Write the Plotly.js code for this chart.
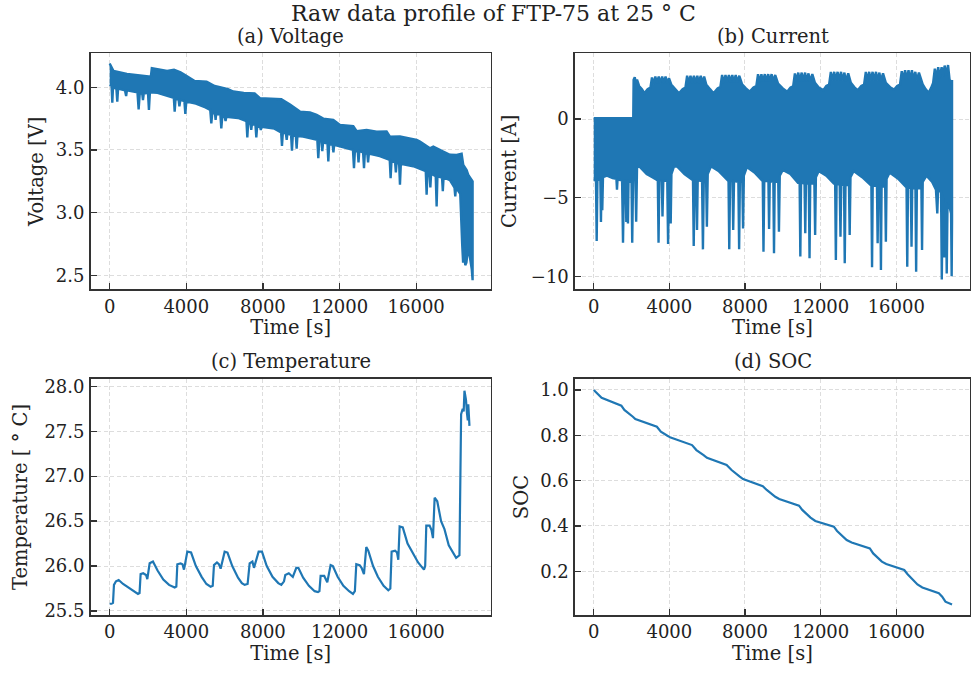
<!DOCTYPE html>
<html>
<head>
<meta charset="utf-8">
<script src="https://cdn.plot.ly/plotly-3.0.1.min.js"></script>
<style>html,body{margin:0;padding:0;background:#fff;}#chart{width:971px;height:673px;}</style>
</head>
<body>
<div id="chart"></div>
<script>
// ---------------- DATA ----------------
const timeTicks = [0, 4000, 8000, 12000, 16000];

// (a) Voltage: upper envelope of the dense trace [time s, V]
const voltUpper = [[0,4.19],[60,4.17],[200,4.13],[900,4.107],[1500,4.095],[2050,4.085],[2150,4.085],[2200,4.152],[2600,4.14],[3000,4.13],[3360,4.14],[3700,4.12],[4019,4.09],[4435,4.05],[5060,4.045],[5480,4.01],[6175,3.985],[6452,3.966],[7000,3.955],[7568,3.95],[7844,3.913],[8264,3.91],[8960,3.905],[9412,3.862],[9932,3.806],[10456,3.80],[10802,3.78],[11152,3.75],[11672,3.74],[12023,3.70],[12716,3.69],[12893,3.65],[13412,3.66],[13937,3.646],[14456,3.647],[14631,3.606],[15152,3.607],[16023,3.58],[16196,3.567],[16719,3.513],[16892,3.527],[17415,3.486],[17762,3.461],[18111,3.46],[18371,3.469],[18458,3.38],[18632,3.34],[18719,3.30],[18945,3.25]];
// (a) Voltage: lower envelope including the downward spikes [time s, V]
const voltLower = [[0,4.02],[100,4.01],[138,3.877],[175,4.0],[350,3.99],[398,3.885],[440,3.99],[800,3.975],[860,3.93],[900,3.975],[1450,3.96],[1512,3.824],[1570,3.95],[1700,3.95],[1738,3.898],[1780,3.95],[2000,3.955],[2050,3.82],[2100,3.96],[2500,3.955],[3000,3.93],[3350,3.915],[3393,3.806],[3440,3.91],[3600,3.90],[3640,3.847],[3690,3.90],[3900,3.89],[3950,3.788],[4000,3.885],[4500,3.87],[5000,3.84],[5250,3.82],[5306,3.712],[5360,3.80],[5500,3.79],[5530,3.74],[5560,3.79],[5780,3.78],[5828,3.672],[5880,3.77],[6000,3.765],[6050,3.73],[6090,3.765],[6700,3.755],[7140,3.73],[7185,3.60],[7230,3.72],[7350,3.71],[7390,3.66],[7430,3.71],[7610,3.70],[7655,3.60],[7700,3.69],[7850,3.685],[7890,3.66],[7930,3.685],[8600,3.67],[8950,3.64],[8995,3.532],[9040,3.64],[9200,3.63],[9240,3.58],[9280,3.63],[9470,3.62],[9516,3.495],[9560,3.615],[9720,3.61],[9760,3.51],[9800,3.61],[10100,3.607],[10840,3.58],[10890,3.434],[10940,3.57],[11060,3.57],[11100,3.49],[11140,3.56],[11370,3.55],[11414,3.408],[11460,3.55],[11640,3.54],[11680,3.48],[11720,3.54],[12000,3.527],[12700,3.50],[12753,3.355],[12800,3.49],[12950,3.49],[12990,3.40],[13030,3.49],[13230,3.48],[13276,3.355],[13320,3.475],[13450,3.47],[13490,3.40],[13530,3.47],[14100,3.45],[14620,3.42],[14666,3.275],[14710,3.41],[14900,3.40],[14940,3.32],[14980,3.40],[15110,3.39],[15154,3.222],[15200,3.39],[15850,3.37],[16500,3.33],[16545,3.142],[16590,3.32],[16700,3.31],[16740,3.20],[16780,3.31],[17020,3.29],[17068,3.049],[17110,3.29],[17350,3.28],[17390,3.17],[17430,3.28],[17760,3.26],[18000,3.20],[18040,3.13],[18080,3.20],[18300,3.15],[18400,2.75],[18450,2.60],[18500,2.72],[18560,2.58],[18620,2.60],[18700,2.70],[18800,2.65],[18900,2.55],[18945,2.46]];

// (b) Current: upper envelope [time s, A]
const currUpper = [[0,0.05],[2090,0.05],[2110,2.5],[2170,2.65],[2230,2.3],[2290,2.5],[2400,2.1],[2550,1.9],[2680,1.64],[2850,1.9],[3000,2.0],[3080,2.65],[3150,2.2],[3260,2.7],[3330,2.3],[3440,2.7],[3510,2.25],[3620,2.7],[3690,2.3],[3800,2.7],[3870,2.3],[3980,2.6],[4100,2.2],[4300,1.9],[4507,1.64],
[4700,1.9],[4850,2.0],[4940,2.75],[5010,2.3],[5120,2.75],[5190,2.3],[5300,2.75],[5370,2.3],[5480,2.75],[5550,2.3],[5660,2.75],[5730,2.3],[5840,2.7],[5950,2.2],[6150,1.9],[6334,1.64],
[6550,1.95],[6700,2.05],[6790,2.8],[6860,2.3],[6970,2.8],[7040,2.35],[7150,2.8],[7220,2.35],[7330,2.8],[7400,2.35],[7510,2.8],[7580,2.35],[7700,2.75],[7850,2.2],[8050,1.95],[8248,1.74],
[8450,2.0],[8600,2.1],[8690,2.85],[8760,2.35],[8870,2.85],[8940,2.4],[9050,2.85],[9120,2.4],[9230,2.85],[9300,2.4],[9410,2.85],[9480,2.4],[9600,2.8],[9750,2.25],[10000,1.95],[10231,1.74],
[10400,2.0],[10550,2.1],[10640,2.9],[10710,2.4],[10820,2.95],[10890,2.4],[11000,2.95],[11070,2.4],[11180,2.95],[11250,2.4],[11360,2.9],[11430,2.4],[11560,2.85],[11700,2.3],[11900,2.0],[12145,1.84],
[12300,2.1],[12450,2.2],[12540,3.0],[12610,2.45],[12720,3.0],[12790,2.45],[12900,3.0],[12970,2.45],[13080,3.0],[13150,2.45],[13260,2.95],[13330,2.4],[13460,2.9],[13600,2.3],[13800,2.0],[13973,1.84],
[14150,2.1],[14300,2.2],[14390,3.0],[14460,2.45],[14570,3.0],[14640,2.45],[14750,3.0],[14820,2.45],[14930,3.0],[15000,2.45],[15110,2.95],[15180,2.4],[15300,2.9],[15450,2.3],[15700,2.0],[15887,1.88],
[16050,2.1],[16200,2.2],[16290,3.05],[16360,2.5],[16470,3.1],[16540,2.5],[16650,3.1],[16720,2.5],[16830,3.1],[16900,2.5],[17010,3.0],[17080,2.45],[17200,2.95],[17400,2.2],[17550,1.9],[17713,1.67],
[17850,2.0],[17950,2.3],[18040,3.2],[18110,2.6],[18220,3.3],[18290,2.6],[18400,3.3],[18470,2.7],[18560,3.4],[18640,2.8],[18740,3.43],[18820,2.5],[18900,2.4],[18950,2.4]];
// (b) Current: lower envelope including the discharge spikes [time s, A]
const currLower = [[0,-3.88],[120,-3.9],[157,-7.75],[195,-3.9],[350,-3.8],[383,-6.55],[415,-3.8],[452,-5.8],[490,-3.7],[700,-3.6],[1000,-3.75],[1200,-3.8],[1230,-4.5],[1260,-3.85],[1500,-3.9],[1549,-7.87],[1600,-3.9],[1690,-3.9],[1723,-6.55],[1760,-3.95],[1790,-3.95],[1810,-6.65],[1840,-3.95],[2000,-4.0],[2036,-7.87],[2080,-3.8],[2200,-3.5],[2245,-6.53],[2290,-3.1],[2400,-3.0],[2800,-3.5],[3100,-3.7],[3390,-3.9],[3428,-7.87],[3470,-3.9],[3600,-3.9],[3637,-6.2],[3680,-3.9],[3890,-3.95],[3933,-7.95],[3980,-3.95],[4040,-3.95],[4072,-6.64],[4110,-3.5],[4250,-3.0],[4420,-3.03],[4800,-3.5],[5000,-3.7],[5250,-3.9],[5289,-8.08],[5330,-3.9],[5420,-3.9],[5463,-7.06],[5500,-3.9],[5730,-3.95],[5776,-8.29],[5820,-3.95],[5945,-3.95],[5985,-6.85],[6030,-3.5],[6200,-3.0],[6600,-3.3],[7000,-3.8],[7130,-3.95],[7168,-8.29],[7210,-3.95],[7340,-3.95],[7377,-7.06],[7420,-3.95],[7650,-4.0],[7690,-8.29],[7730,-4.0],[7860,-4.0],[7899,-6.96],[7940,-3.6],[8100,-3.05],[8500,-3.4],[8900,-3.9],[8940,-3.95],[8978,-8.44],[9020,-3.95],[9240,-3.95],[9274,-7.0],[9310,-3.95],[9500,-4.0],[9535,-8.53],[9570,-4.0],[9760,-4.0],[9796,-7.17],[9840,-3.6],[10000,-3.24],[10400,-3.5],[10800,-4.05],[10890,-4.05],[10927,-8.75],[10965,-4.05],[11150,-4.1],[11188,-7.27],[11225,-4.1],[11375,-4.1],[11414,-8.86],[11450,-4.1],[11670,-4.1],[11710,-7.38],[11750,-3.7],[11900,-3.3],[12300,-3.6],[12700,-4.1],[12770,-4.15],[12806,-8.97],[12845,-4.15],[13010,-4.15],[13050,-7.48],[13090,-4.15],[13240,-4.2],[13276,-9.18],[13315,-4.2],[13500,-4.2],[13537,-7.38],[13580,-3.7],[13750,-3.3],[14200,-3.7],[14650,-4.2],[14685,-4.25],[14720,-9.43],[14755,-4.25],[14980,-4.25],[15016,-7.9],[15050,-4.25],[15155,-4.3],[15190,-9.6],[15225,-4.3],[15415,-4.3],[15451,-7.8],[15490,-3.8],[15650,-3.4],[16100,-3.8],[16500,-4.3],[16545,-4.35],[16582,-9.39],[16620,-4.35],[16770,-4.4],[16808,-8.12],[16845,-4.4],[17015,-4.4],[17052,-9.71],[17090,-4.4],[17330,-4.4],[17365,-8.33],[17400,-4.0],[17600,-3.6],[17900,-4.0],[18100,-4.5],[18130,-4.5],[18170,-6.0],[18210,-4.6],[18370,-4.6],[18409,-10.2],[18450,-4.8],[18500,-5.5],[18540,-8.8],[18580,-5.5],[18630,-5.3],[18670,-9.82],[18710,-5.5],[18800,-5.5],[18900,-6.0],[18931,-10.0],[18950,-6.5]];

// (c) Temperature [time s, deg C]
const temperature = [[0,25.58],[100,25.58],[174,25.59],[224,25.79],[330,25.83],[470,25.845],[700,25.80],[1000,25.76],[1300,25.71],[1477,25.69],[1560,25.70],[1616,25.91],[1750,25.92],[1900,25.90],[1965,25.855],[2087,26.03],[2260,26.05],[2500,25.95],[2800,25.85],[3100,25.79],[3393,25.76],[3480,25.77],[3532,26.02],[3700,26.03],[3800,26.02],[3880,25.96],[4054,26.16],[4250,26.15],[4500,26.0],[4800,25.88],[5050,25.80],[5271,25.77],[5380,25.78],[5445,26.01],[5600,26.04],[5700,26.02],[5793,25.97],[6002,26.16],[6150,26.15],[6400,26.0],[6700,25.87],[6900,25.81],[7046,25.79],[7200,25.80],[7307,26.03],[7450,26.05],[7533,25.98],[7777,26.16],[7950,26.16],[8200,26.0],[8500,25.88],[8800,25.81],[8960,25.79],[9100,25.83],[9168,25.90],[9350,25.92],[9450,25.90],[9560,25.88],[9742,25.98],[9850,25.98],[10100,25.87],[10400,25.78],[10700,25.72],[10873,25.71],[10950,25.72],[11012,25.89],[11200,25.89],[11360,25.82],[11534,26.01],[11650,26.0],[11900,25.88],[12200,25.78],[12500,25.72],[12700,25.69],[12800,25.72],[12874,26.02],[13050,26.01],[13150,25.98],[13274,25.91],[13396,26.21],[13500,26.17],[13750,26.0],[14000,25.88],[14300,25.78],[14544,25.73],[14650,25.75],[14718,26.16],[14900,26.17],[15000,26.15],[15066,26.07],[15136,26.44],[15300,26.43],[15550,26.25],[15800,26.15],[16100,26.04],[16406,25.96],[16470,26.0],[16528,26.45],[16700,26.45],[16800,26.40],[16876,26.31],[16963,26.76],[17100,26.72],[17300,26.50],[17476,26.41],[17700,26.23],[17900,26.15],[18085,26.09],[18259,26.12],[18346,27.69],[18430,27.75],[18480,27.72],[18520,27.95],[18600,27.85],[18650,27.70],[18694,27.62],[18720,27.80],[18781,27.56]];

// (d) SOC [time s, fraction]
const soc = [[0,1.0],[244,0.978],[418,0.966],[1462,0.931],[1620,0.912],[2071,0.882],[2200,0.872],[3341,0.838],[3550,0.816],[3898,0.798],[4070,0.790],[5201,0.757],[5430,0.735],[5811,0.713],[5990,0.701],[7029,0.669],[7290,0.647],[7725,0.618],[7900,0.607],[8943,0.576],[9150,0.559],[9604,0.529],[9810,0.519],[10857,0.490],[11030,0.471],[11466,0.437],[11720,0.422],[12700,0.397],[12870,0.378],[13379,0.338],[13640,0.327],[14604,0.301],[14780,0.279],[15240,0.243],[15470,0.232],[16423,0.206],[16600,0.187],[17122,0.142],[17380,0.129],[18253,0.103],[18430,0.088],[18601,0.066],[18950,0.054]];

// ---------------- DRAWING ----------------
const BLUE = '#1f77b4';
const FONT = 'DejaVu Serif, Liberation Serif, serif';
const TXT = '#222';
const W = 971, H = 673;
const fx = p => p / W;
const fy = p => 1 - p / H;

function bandPolygon(upper, lower) {
  const rev = lower.slice().reverse();
  return {
    x: upper.map(p => p[0]).concat(rev.map(p => p[0])),
    y: upper.map(p => p[1]).concat(rev.map(p => p[1]))
  };
}

const vPoly = bandPolygon(voltUpper, voltLower);
const cPoly = bandPolygon(currUpper, currLower);

const traces = [
  {x: vPoly.x, y: vPoly.y, type: 'scatter', mode: 'lines', fill: 'toself', fillcolor: BLUE,
   line: {color: BLUE, width: 2.4, shape: 'linear'}, xaxis: 'x', yaxis: 'y', hoverinfo: 'skip'},
  {x: cPoly.x, y: cPoly.y, type: 'scatter', mode: 'lines', fill: 'toself', fillcolor: BLUE,
   line: {color: BLUE, width: 2.4, shape: 'linear'}, xaxis: 'x2', yaxis: 'y2', hoverinfo: 'skip'},
  {x: temperature.map(p => p[0]), y: temperature.map(p => p[1]), type: 'scatter', mode: 'lines',
   line: {color: BLUE, width: 2.2}, xaxis: 'x3', yaxis: 'y3'},
  {x: soc.map(p => p[0]), y: soc.map(p => p[1]), type: 'scatter', mode: 'lines',
   line: {color: BLUE, width: 2.2}, xaxis: 'x4', yaxis: 'y4'}
];

const xDomL = [fx(90.7), fx(490.7)];
const xDomR = [fx(575), fx(969.8)];
const yDomT = [fy(289.3), fy(53.3)];
const yDomB = [fy(615), fy(379)];
const xRange = [-990, 19890];

function xAxis(domain, anchor) {
  return {
    domain: domain, anchor: anchor, range: xRange, tickvals: timeTicks, tickformat: 'd',
    ticks: 'inside', ticklen: 6, tickwidth: 1.3, tickcolor: '#333',
    showline: true, mirror: true, linecolor: '#333', linewidth: 1.6,
    showgrid: true, gridcolor: '#d4d4d4', gridwidth: 0.8, griddash: '4px,2.5px',
    zeroline: false, tickfont: {family: FONT, size: 18, color: TXT},
    ticklabelstandoff: 0,
    title: {text: 'Time [s]', font: {family: FONT, size: 19.5, color: TXT}, standoff: 4}
  };
}
function yAxis(domain, anchor, range, dtick, fmt, title, standoff) {
  return {
    domain: domain, anchor: anchor, range: range, dtick: dtick, tickformat: fmt,
    ticks: 'inside', ticklen: 6, tickwidth: 1.3, tickcolor: '#333',
    showline: true, mirror: true, linecolor: '#333', linewidth: 1.6,
    showgrid: true, gridcolor: '#d4d4d4', gridwidth: 0.8, griddash: '4px,2.5px',
    zeroline: false, tickfont: {family: FONT, size: 18, color: TXT},
    ticklabelstandoff: 1,
    title: {text: title, font: {family: FONT, size: 19.5, color: TXT}, standoff: standoff}
  };
}

function titleAnn(text, xc, yc, size) {
  return {text: text, x: fx(xc), y: fy(yc), xref: 'paper', yref: 'paper',
          xanchor: 'center', yanchor: 'middle', showarrow: false,
          font: {family: FONT, size: size, color: TXT}};
}

const layout = {
  width: W, height: H,
  margin: {l: 0, r: 0, t: 0, b: 0},
  paper_bgcolor: '#fff', plot_bgcolor: '#fff',
  showlegend: false,
  xaxis: xAxis(xDomL, 'y'),
  yaxis: yAxis(yDomT, 'x', [2.388, 4.271], 0.5, '.1f', 'Voltage [V]', 7),
  xaxis2: xAxis(xDomR, 'y2'),
  yaxis2: yAxis(yDomT, 'x2', [-10.83, 4.18], 5, 'd', 'Current [A]', 9),
  xaxis3: xAxis(xDomL, 'y3'),
  yaxis3: yAxis(yDomB, 'x3', [25.455, 28.081], 0.5, '.1f', 'Temperature [ ° C]', 11),
  xaxis4: xAxis(xDomR, 'y4'),
  yaxis4: yAxis(yDomB, 'x4', [0.0073, 1.0485], 0.2, '.1f', 'SOC', 6),
  annotations: [
    titleAnn('Raw data profile of FTP-75 at 25 ° C', 493, 13, 22),
    titleAnn('(a) Voltage', 290.7, 36.5, 19.5),
    titleAnn('(b) Current', 772.9, 36.5, 19.5),
    titleAnn('(c) Temperature', 290.7, 361.5, 19.5),
    titleAnn('(d) SOC', 772.9, 361.5, 19.5)
  ]
};

Plotly.newPlot('chart', traces, layout, {staticPlot: true, displayModeBar: false});
</script>
</body>
</html>
